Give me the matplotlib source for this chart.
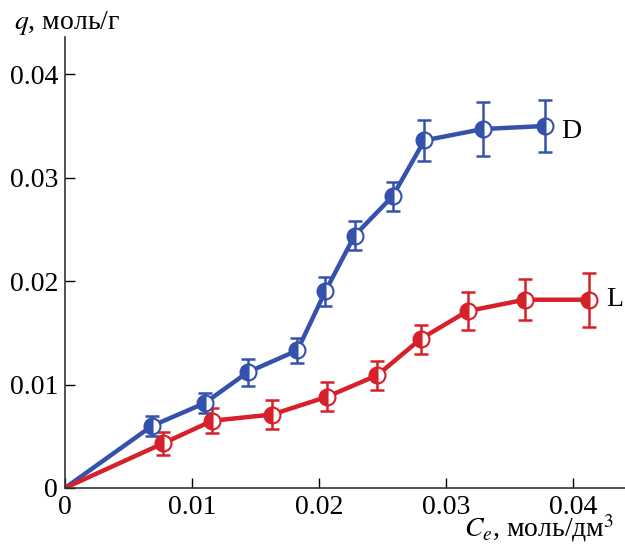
import numpy as np
import matplotlib
matplotlib.use("Agg")
from matplotlib import pyplot as plt

plt.rcParams['font.family'] = ['Liberation Serif', 'DejaVu Serif']
plt.rcParams['mathtext.fontset'] = 'stix'

# D series
d_x = [0.0, 0.00685, 0.0110, 0.0144, 0.0183, 0.0205, 0.0228, 0.0258, 0.0283, 0.0329, 0.0378]
d_y = [0.0, 0.0060, 0.0082, 0.0112, 0.0133, 0.0190, 0.0244, 0.0282, 0.0336, 0.0347, 0.0350]
d_err = [0.0, 0.0010, 0.0010, 0.0013, 0.0012, 0.0014, 0.0014, 0.0014, 0.0020, 0.0026, 0.0025]

# L series
l_x = [0.0, 0.0077, 0.0116, 0.0163, 0.0206, 0.0246, 0.0280, 0.0317, 0.0362, 0.0413]
l_y = [0.0, 0.0043, 0.0065, 0.0071, 0.0088, 0.0109, 0.0144, 0.0171, 0.0182, 0.0182]
l_err = [0.0, 0.0011, 0.0012, 0.0014, 0.0014, 0.0014, 0.0014, 0.0018, 0.0020, 0.0026]

x_ticks = [0, 0.01, 0.02, 0.03, 0.04]
x_ticklabels = ["0", "0.01", "0.02", "0.03", "0.04"]
y_ticks = [0, 0.01, 0.02, 0.03, 0.04]
y_ticklabels = ["0", "0.01", "0.02", "0.03", "0.04"]

blue = "#3452ac"
red = "#d6202a"
serif = ['Liberation Serif', 'DejaVu Serif']

fig = plt.figure(figsize=(6.25, 5.44), dpi=100)
ax = fig.add_axes([0.104, 0.103, 0.896, 0.829])

for xs, ys, es, c in [(d_x, d_y, d_err, blue), (l_x, l_y, l_err, red)]:
    ax.plot(xs, ys, color=c, lw=3.2, zorder=2)
    ax.errorbar(xs[1:], ys[1:], yerr=es[1:], fmt='none', ecolor=c,
                elinewidth=1.8, capsize=5, capthick=1.8, zorder=3)
    ax.plot(xs[1:], ys[1:], ls='none', marker='o', ms=11.5, color=c,
            fillstyle='left', markerfacecoloralt='white',
            markeredgecolor=c, markeredgewidth=1.5, zorder=4)

ax.set_xlim(0, 0.0441)
ax.set_ylim(0, 0.0436)
ax.set_xticks(x_ticks)
ax.set_xticklabels(x_ticklabels, fontfamily=serif)
ax.set_yticks(y_ticks)
ax.set_yticklabels(y_ticklabels, fontfamily=serif)
ax.tick_params(direction='in', length=7, width=1, labelsize=20, pad=5)
ax.spines['top'].set_visible(False)
ax.spines['right'].set_visible(False)
for s in ['left', 'bottom']:
    ax.spines[s].set_linewidth(1.2)
    ax.spines[s].set_color('#333333')

ax.text(d_x[-1] + 0.0013, d_y[-1] - 0.0005, "D", fontsize=20, va='center', ha='left',
        clip_on=False, fontfamily=serif)
ax.text(l_x[-1] + 0.0013, l_y[-1], "L", fontsize=20, va='center', ha='left',
        clip_on=False, fontfamily=serif)

fig.text(0.022, 0.958, "$q$, моль/г", fontsize=20, ha='left', va='center')
fig.text(0.983, 0.03, "$C_e$, моль/дм$^3$", fontsize=20, ha='right', va='center')

fig.savefig("out.png", dpi=100)
